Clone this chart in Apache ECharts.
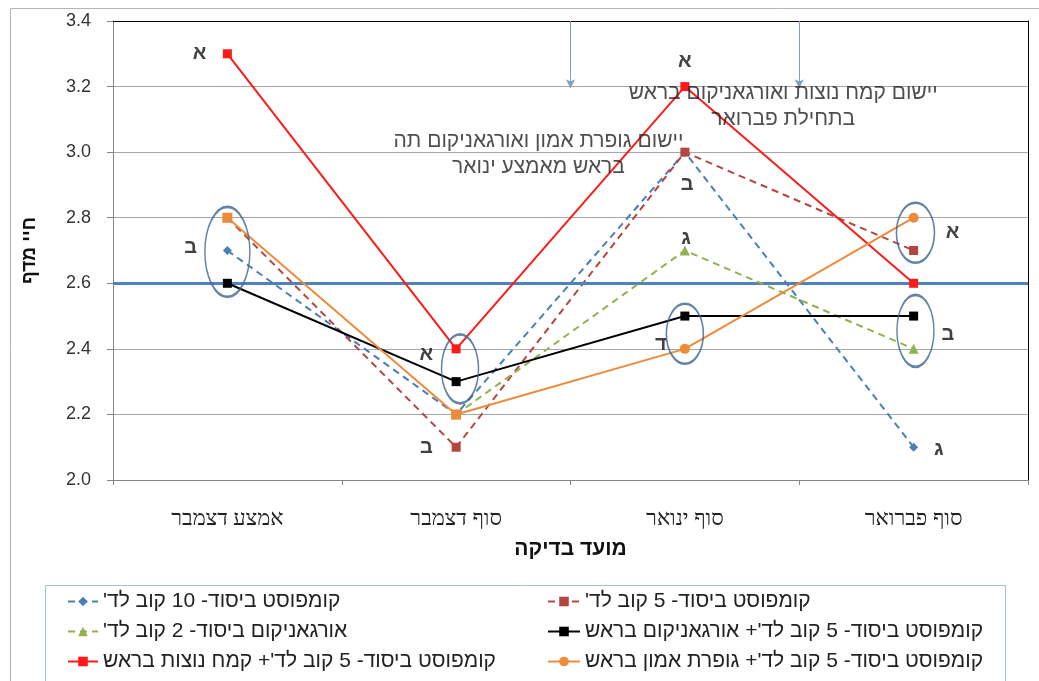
<!DOCTYPE html>
<html>
<head>
<meta charset="utf-8">
<script src="https://cdn.jsdelivr.net/npm/echarts@6/dist/echarts.min.js"></script>
<style>
html,body{margin:0;padding:0;background:#fff;}
#c{width:1039px;height:681px;direction:rtl;}
</style>
</head>
<body>
<div id="c"></div>
<script>
// ---------- data ----------
const categories = ['אמצע דצמבר', 'סוף דצמבר', 'סוף ינואר', 'סוף פברואר'];
const yTicks = { min: 2.0, max: 3.4, interval: 0.2 };
const seriesNames = [
  "קומפוסט ביסוד- 10 קוב לד'",
  "קומפוסט ביסוד- 5 קוב לד'",
  "אורגאניקום ביסוד- 2 קוב לד'",
  "קומפוסט ביסוד- 5 קוב לד'+ אורגאניקום בראש",
  "קומפוסט ביסוד- 5 קוב לד'+ קמח נוצות בראש",
  "קומפוסט ביסוד- 5 קוב לד'+ גופרת אמון בראש"
];
const compost10 = [2.7, 2.2, 3.0, 2.1];
const compost5 = [2.8, 2.1, 3.0, 2.7];
const organicum2 = [null, 2.2, 2.7, 2.4];
const compost5Organicum = [2.6, 2.3, 2.5, 2.5];
const compost5Feather = [3.3, 2.4, 3.2, 2.6];
const compost5Ammonium = [2.8, 2.2, 2.4, 2.8];
const referenceLevel = 2.6;
const xTitle = 'מועד בדיקה';
const yTitle = 'חיי מדף';

// annotations: [category position, value]
const noteTexts = ['יישום גופרת אמון ואורגאניקום תה\nבראש מאמצע ינואר', 'יישום קמח נוצות ואורגאניקום בראש\nבתחילת פברואר'];
const notePos = [[1.36, 2.994], [2.43, 3.139]];
const arrowX = [1.5, 2.5];
const arrowTip = 3.195;
const letters = ['א', 'ב', 'א', 'ב', 'א', 'ב', 'ג', 'ד', 'א', 'ב', 'ג'];
const letterPos = [[-0.122, 3.3], [-0.16, 2.71], [0.87, 2.382], [0.87, 2.098], [2.0, 3.275], [2.01, 2.9], [2.005, 2.738],
  [1.895, 2.412], [3.17, 2.754], [3.15, 2.443], [3.11, 2.092]];
// ellipses: [category position, value, width px, height px]
const ellipses = [[0.0, 2.696, 45, 90], [1.017, 2.339, 37, 69], [2.0, 2.446, 37, 60], [3.008, 2.754, 38, 60], [3.008, 2.455, 37, 72]];

// ---------- styles ----------
const FONT = 'Liberation Sans';
const styles = [
  { color: '#4a7ebb', symbol: 'diamond', size: 9, type: [7, 5] },
  { color: '#b4463f', symbol: 'rect', size: 9, type: [7, 5] },
  { color: '#8fb24f', symbol: 'triangle', size: 10, type: [7, 5] },
  { color: '#000000', symbol: 'rect', size: 9, type: 'solid' },
  { color: '#ff1a1a', symbol: 'rect', size: 9, type: 'solid' },
  { color: '#ed8a3c', symbol: 'circle', size: 10, type: 'solid', pointSymbols: ['rect', 'rect', 'circle', 'circle'] }
];
const values = [compost10, compost5, organicum2, compost5Organicum, compost5Feather, compost5Ammonium];

const dataSeries = values.map((vals, i) => ({
  name: seriesNames[i],
  type: 'line',
  data: styles[i].pointSymbols ? vals.map((v, k) => ({ value: v, symbol: styles[i].pointSymbols[k] })) : vals,
  connectNulls: false,
  symbol: styles[i].symbol,
  symbolSize: styles[i].size,
  lineStyle: { color: styles[i].color, width: 2, type: styles[i].type },
  itemStyle: { color: styles[i].color },
  z: 3 + i
}));

const legendText = { fontFamily: FONT, fontSize: 21, color: '#222', lineHeight: 18 };

const chart = echarts.init(document.getElementById('c'), null, { renderer: 'canvas' });
chart.setOption({
  animation: false,
  textStyle: { fontFamily: FONT },
  grid: { left: 113, right: 11, top: 21, bottom: 201, containLabel: false },
  graphic: [
    { type: 'rect', left: 8, top: 6, shape: { width: 1060, height: 700 }, style: { fill: 'none', stroke: '#b5b5b5', lineWidth: 1 }, silent: true, z: -10 },
    { type: 'rect', left: 43, top: 583, shape: { width: 960, height: 96 }, style: { fill: 'none', stroke: '#a8bfd2', lineWidth: 1 }, silent: true, z: -10 }
  ],
  legend: [
    {
      orient: 'vertical', left: 62, top: 586, itemGap: 9, itemWidth: 30, itemHeight: 12,
      data: [seriesNames[0], seriesNames[2], seriesNames[4]],
      textStyle: legendText
    },
    {
      orient: 'vertical', left: 542, top: 586, itemGap: 9, itemWidth: 32, itemHeight: 12,
      data: [seriesNames[1], seriesNames[3], seriesNames[5]],
      textStyle: legendText
    }
  ],
  xAxis: [
    {
      type: 'category', data: categories, boundaryGap: true,
      name: xTitle, nameLocation: 'middle', nameGap: 59,
      nameTextStyle: { fontFamily: FONT, fontSize: 21, fontWeight: 'bold', color: '#111' },
      axisLine: { onZero: false, lineStyle: { color: '#868686', width: 1 } },
      axisTick: { show: true, length: 5, lineStyle: { color: '#868686' } },
      axisLabel: { margin: 28, fontFamily: 'Liberation Sans Narrow', fontSize: 22, color: '#222' },
      splitLine: { show: false }
    },
    {
      type: 'value', position: 'top', min: -0.5, max: 3.5,
      axisLine: { show: true, onZero: false, lineStyle: { color: '#000', width: 1 } },
      axisTick: { show: false }, axisLabel: { show: false }, splitLine: { show: false }
    }
  ],
  yAxis: [
    {
      type: 'value', min: yTicks.min, max: yTicks.max, interval: yTicks.interval,
      name: yTitle, nameLocation: 'middle', nameGap: 74, nameRotate: 90,
      nameTextStyle: { fontFamily: FONT, fontSize: 19, fontWeight: 'bold', color: '#111' },
      axisLine: { show: true, onZero: false, lineStyle: { color: '#868686', width: 1 } },
      axisTick: { show: true, length: 6, lineStyle: { color: '#868686' } },
      axisLabel: { margin: 22, fontSize: 18, color: '#333', formatter: v => v.toFixed(1) },
      splitLine: { show: true, lineStyle: { color: '#a6a6a6', width: 1 } }
    },
    {
      type: 'value', position: 'right', min: yTicks.min, max: yTicks.max,
      axisLine: { show: true, onZero: false, lineStyle: { color: '#000', width: 1 } },
      axisTick: { show: false }, axisLabel: { show: false }, splitLine: { show: false }
    }
  ],
  series: [
    {
      name: 'ref', type: 'line', xAxisIndex: 1, yAxisIndex: 0, data: [], silent: true, z: 2,
      markLine: {
        silent: true, animation: false, label: { show: false },
        data: [
          [{ xAxis: -0.5, yAxis: referenceLevel, symbol: 'none' }, { xAxis: 3.5, yAxis: referenceLevel, symbol: 'none' }],
          ...arrowX.map(x => [{ coord: [x, yTicks.max], symbol: 'none', lineStyle: { color: '#7f9fc2', width: 1, type: 'solid' } },
            { coord: [x, arrowTip], symbol: 'arrow', symbolSize: [7, 9], lineStyle: { color: '#7f9fc2', width: 1, type: 'solid' } }])
        ],
        lineStyle: { color: '#4f81bd', width: 3, type: 'solid' }
      }
    },
    ...dataSeries,
    {
      name: 'ellipses', type: 'scatter', xAxisIndex: 1, yAxisIndex: 0, silent: true, z: 20,
      data: ellipses,
      symbol: 'circle',
      symbolSize: v => [v[2], v[3]],
      itemStyle: { color: 'rgba(0,0,0,0)', borderColor: '#3d6591', borderWidth: 2 }
    },
    {
      name: 'letters', type: 'scatter', xAxisIndex: 1, yAxisIndex: 0, silent: true, z: 21,
      data: letters.map((t, i) => ({ name: t, value: letterPos[i] })),
      symbolSize: 1, itemStyle: { color: 'rgba(0,0,0,0)' },
      label: { show: true, position: 'inside', formatter: p => p.name, fontFamily: FONT, fontSize: 20, fontWeight: 'bold', color: '#111' }
    },
    {
      name: 'notes', type: 'scatter', xAxisIndex: 1, yAxisIndex: 0, silent: true, z: 19,
      data: noteTexts.map((t, i) => ({ name: t, value: notePos[i] })),
      symbolSize: 1, itemStyle: { color: 'rgba(0,0,0,0)' },
      label: { show: true, position: 'inside', formatter: p => p.name, fontFamily: FONT, fontSize: 21, lineHeight: 26, color: '#222', align: 'center' }
    }
  ]
});
</script>
</body>
</html>
